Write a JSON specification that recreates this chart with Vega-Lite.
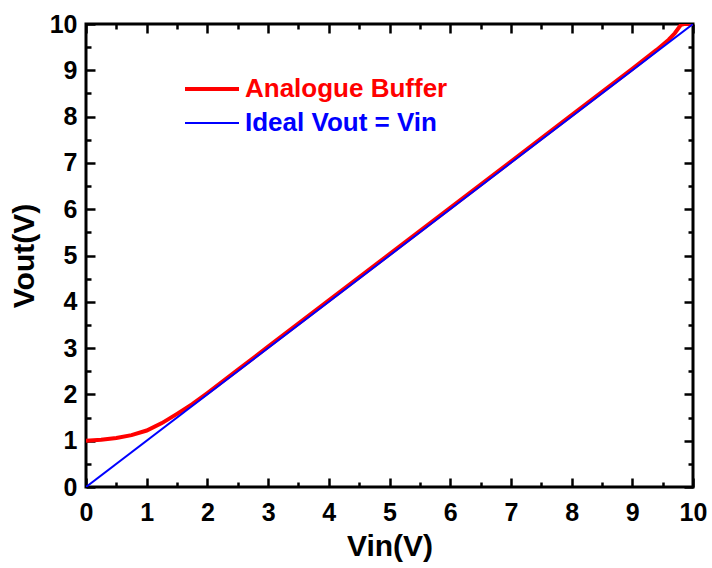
{
  "$schema": "https://vega.github.io/schema/vega-lite/v6.json",
  "width": 607,
  "height": 463,
  "autosize": "none",
  "padding": {"left": 86, "top": 24, "right": 19, "bottom": 81},
  "background": "white",
  "config": {
    "font": "Liberation Sans",
    "view": {"stroke": "#000000", "strokeWidth": 3},
    "axis": {
      "grid": false,
      "domain": false,
      "tickColor": "#000000",
      "tickWidth": 2.5,
      "labelFont": "Liberation Sans",
      "labelFontWeight": "bold",
      "labelFontSize": 25,
      "labelColor": "#000000",
      "labelFlush": false,
      "labelOverlap": false,
      "titleFont": "Liberation Sans",
      "titleFontWeight": "bold",
      "titleFontSize": 30,
      "titleColor": "#000000"
    },
    "legend": {
      "title": null,
      "orient": "none",
      "legendX": 113,
      "legendY": 52,
      "padding": 0,
      "symbolType": "M-27,0H27",
      "symbolSize": 4,
      "labelOffset": 20,
      "labelLimit": 400,
      "labelFont": "Liberation Sans",
      "labelFontWeight": "bold",
      "labelFontSize": 26,
      "rowPadding": 8
    }
  },
  "data": {
    "values": [
      {"series": "Analogue Buffer", "Vin": 0.0, "Vout": 1.0},
      {"series": "Analogue Buffer", "Vin": 0.25, "Vout": 1.02},
      {"series": "Analogue Buffer", "Vin": 0.5, "Vout": 1.06},
      {"series": "Analogue Buffer", "Vin": 0.75, "Vout": 1.12},
      {"series": "Analogue Buffer", "Vin": 1.0, "Vout": 1.22},
      {"series": "Analogue Buffer", "Vin": 1.25, "Vout": 1.38},
      {"series": "Analogue Buffer", "Vin": 1.5, "Vout": 1.58},
      {"series": "Analogue Buffer", "Vin": 1.75, "Vout": 1.79},
      {"series": "Analogue Buffer", "Vin": 2.0, "Vout": 2.03},
      {"series": "Analogue Buffer", "Vin": 2.5, "Vout": 2.53},
      {"series": "Analogue Buffer", "Vin": 3.0, "Vout": 3.03},
      {"series": "Analogue Buffer", "Vin": 4.0, "Vout": 4.03},
      {"series": "Analogue Buffer", "Vin": 5.0, "Vout": 5.03},
      {"series": "Analogue Buffer", "Vin": 6.0, "Vout": 6.03},
      {"series": "Analogue Buffer", "Vin": 7.0, "Vout": 7.03},
      {"series": "Analogue Buffer", "Vin": 8.0, "Vout": 8.03},
      {"series": "Analogue Buffer", "Vin": 9.0, "Vout": 9.03},
      {"series": "Analogue Buffer", "Vin": 9.4, "Vout": 9.44},
      {"series": "Analogue Buffer", "Vin": 9.6, "Vout": 9.66},
      {"series": "Analogue Buffer", "Vin": 9.7, "Vout": 9.8},
      {"series": "Analogue Buffer", "Vin": 9.8, "Vout": 9.98},
      {"series": "Analogue Buffer", "Vin": 9.85, "Vout": 10.0},
      {"series": "Analogue Buffer", "Vin": 10.0, "Vout": 10.0},
      {"series": "Ideal Vout = Vin", "Vin": 0.0, "Vout": 0.0},
      {"series": "Ideal Vout = Vin", "Vin": 10.0, "Vout": 10.0}
    ]
  },
  "layer": [
    {
      "mark": {"type": "line", "clip": true},
      "encoding": {
        "x": {
          "field": "Vin", "type": "quantitative",
          "scale": {"domain": [0, 10], "nice": false, "zero": false},
          "axis": {
            "orient": "bottom",
            "values": [0, 1, 2, 3, 4, 5, 6, 7, 8, 9, 10],
            "tickSize": -9,
            "labelPadding": 22,
            "title": "Vin(V)",
            "titleBaseline": "alphabetic",
            "titleY": 68
          }
        },
        "y": {
          "field": "Vout", "type": "quantitative",
          "scale": {"domain": [0, 10], "nice": false, "zero": false},
          "axis": {
            "orient": "left",
            "values": [0, 1, 2, 3, 4, 5, 6, 7, 8, 9, 10],
            "tickSize": -9,
            "labelPadding": 18,
            "title": "Vout(V)",
            "titleBaseline": "alphabetic",
            "titleX": -53
          }
        },
        "color": {
          "field": "series", "type": "nominal",
          "scale": {"domain": ["Analogue Buffer", "Ideal Vout = Vin"], "range": ["#ff0000", "#0000ff"]},
          "legend": {
            "encode": {
              "labels": {"update": {"fill": {"signal": "datum.label === 'Analogue Buffer' ? '#ff0000' : '#0000ff'"}}}
            }
          }
        },
        "strokeWidth": {
          "field": "series", "type": "nominal",
          "scale": {"domain": ["Analogue Buffer", "Ideal Vout = Vin"], "range": [4, 2]},
          "legend": {
            "encode": {
              "labels": {"update": {"fill": {"signal": "datum.label === 'Analogue Buffer' ? '#ff0000' : '#0000ff'"}}}
            }
          }
        }
      }
    },
    {
      "mark": {"type": "line", "opacity": 0},
      "encoding": {
        "x": {
          "field": "Vin", "type": "quantitative",
          "axis": {
            "orient": "bottom",
            "values": [0.5, 1.5, 2.5, 3.5, 4.5, 5.5, 6.5, 7.5, 8.5, 9.5],
            "tickSize": -5, "labels": false, "title": null
          }
        },
        "y": {
          "field": "Vout", "type": "quantitative",
          "axis": {
            "orient": "left",
            "values": [0.5, 1.5, 2.5, 3.5, 4.5, 5.5, 6.5, 7.5, 8.5, 9.5],
            "tickSize": -5, "labels": false, "title": null
          }
        }
      }
    },
    {
      "mark": {"type": "line", "opacity": 0},
      "encoding": {
        "x": {
          "field": "Vin", "type": "quantitative",
          "axis": {
            "orient": "top",
            "values": [0, 1, 2, 3, 4, 5, 6, 7, 8, 9, 10],
            "tickSize": -9, "labels": false, "title": null
          }
        },
        "y": {
          "field": "Vout", "type": "quantitative",
          "axis": {
            "orient": "right",
            "values": [0, 1, 2, 3, 4, 5, 6, 7, 8, 9, 10],
            "tickSize": -9, "labels": false, "title": null
          }
        }
      }
    },
    {
      "mark": {"type": "line", "opacity": 0},
      "encoding": {
        "x": {
          "field": "Vin", "type": "quantitative",
          "axis": {
            "orient": "top",
            "values": [0.5, 1.5, 2.5, 3.5, 4.5, 5.5, 6.5, 7.5, 8.5, 9.5],
            "tickSize": -5, "labels": false, "title": null
          }
        },
        "y": {
          "field": "Vout", "type": "quantitative",
          "axis": {
            "orient": "right",
            "values": [0.5, 1.5, 2.5, 3.5, 4.5, 5.5, 6.5, 7.5, 8.5, 9.5],
            "tickSize": -5, "labels": false, "title": null
          }
        }
      }
    }
  ],
  "resolve": {"axis": {"x": "independent", "y": "independent"}}
}
